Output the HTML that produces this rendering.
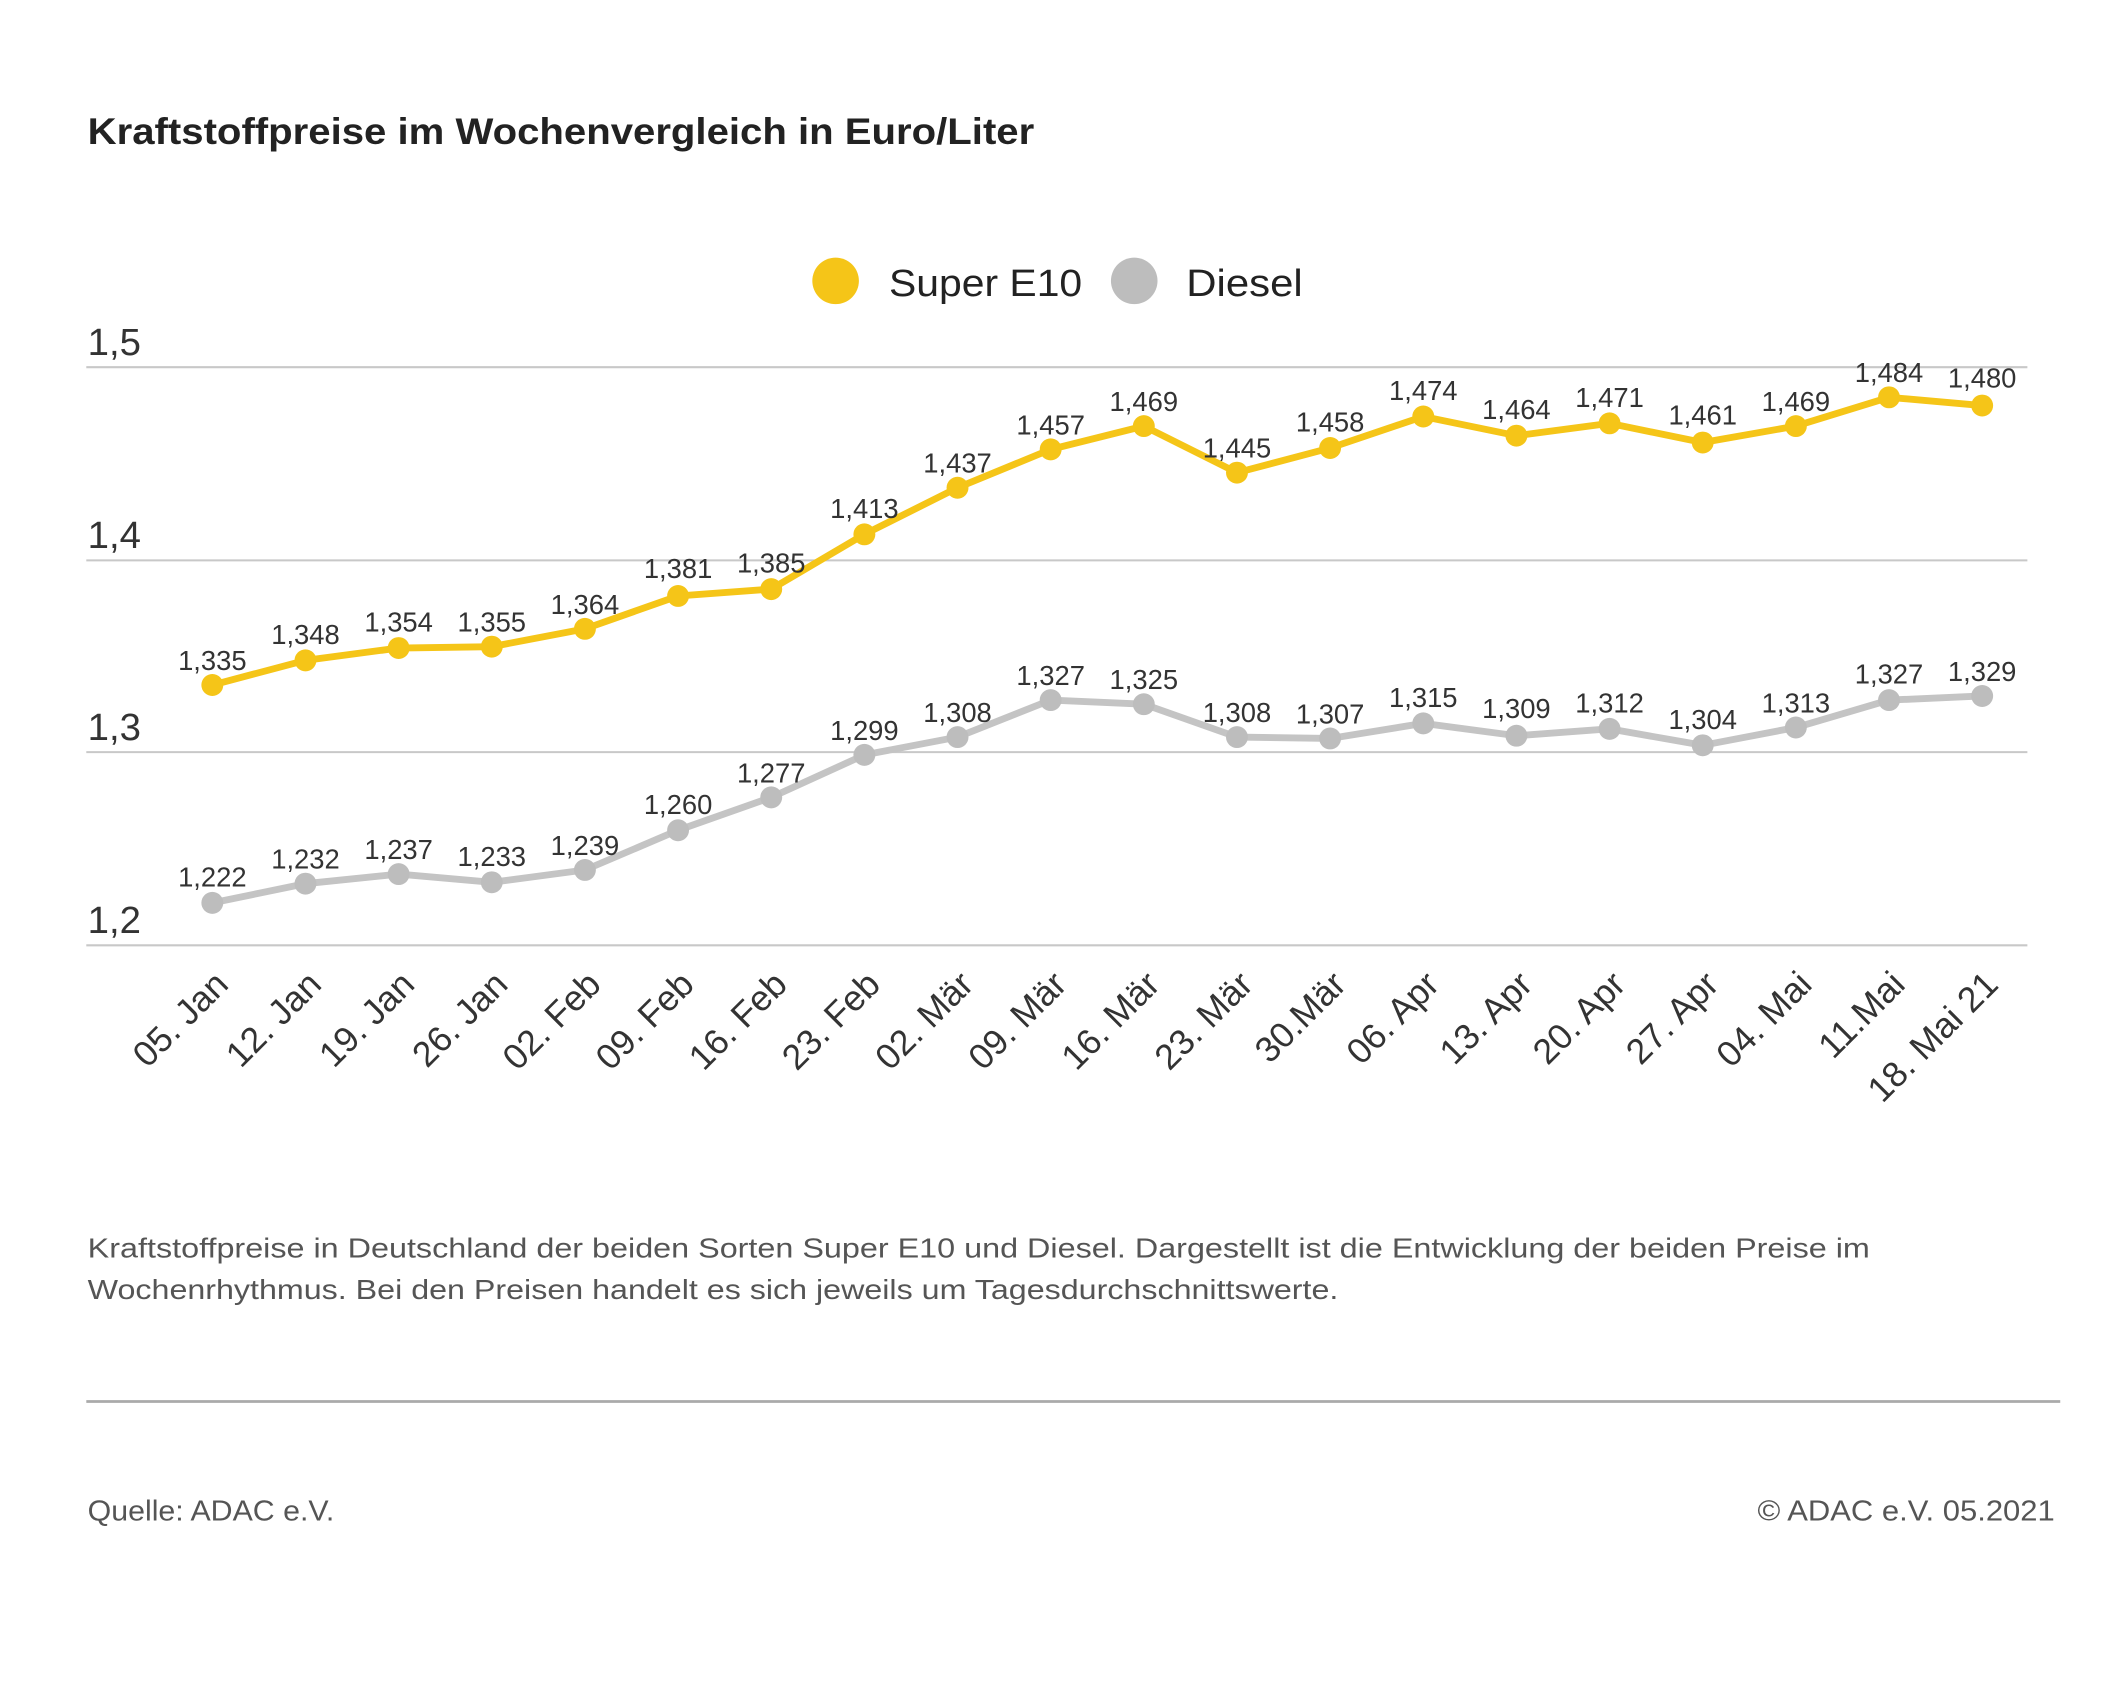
<!DOCTYPE html>
<html><head><meta charset="utf-8"><style>html,body{margin:0;padding:0;background:#fff}svg{display:block}</style></head>
<body>
<svg width="2126" height="1692" viewBox="0 0 1552 1235" preserveAspectRatio="none" xmlns="http://www.w3.org/2000/svg" font-family="Liberation Sans, DejaVu Sans, sans-serif">
<rect width="1552" height="1235" fill="#fff"/>
<text x="64" y="105" font-size="27" font-weight="bold" fill="#222" textLength="691" lengthAdjust="spacingAndGlyphs">Kraftstoffpreise im Wochenvergleich in Euro/Liter</text>
<circle cx="610" cy="205" r="17" fill="#f5c518"/>
<text x="649" y="216" font-size="28" fill="#222" textLength="141" lengthAdjust="spacingAndGlyphs">Super E10</text>
<circle cx="828" cy="205" r="17" fill="#bdbdbd"/>
<text x="866" y="216" font-size="28" fill="#222" textLength="85" lengthAdjust="spacingAndGlyphs">Diesel</text>
<g stroke="#c8c8c8" stroke-width="1.5">
<line x1="63" y1="268" x2="1480" y2="268"/><line x1="63" y1="409" x2="1480" y2="409"/><line x1="63" y1="549" x2="1480" y2="549"/><line x1="63" y1="690" x2="1480" y2="690"/>
</g>
<g font-size="28" fill="#333">
<text x="64" y="259">1,5</text><text x="64" y="400">1,4</text><text x="64" y="540">1,3</text><text x="64" y="681">1,2</text>
</g>
<polyline fill="none" stroke="#f5c518" stroke-width="5" points="155,500 223,482 291,473 359,472 427,459 495,435 563,430 631,390 699,356 767,328 835,311 903,345 971,327 1039,304 1107,318 1175,309 1243,323 1311,311 1379,290 1447,296"/>
<g fill="#f5c518">
<circle cx="155" cy="500" r="8"/><circle cx="223" cy="482" r="8"/><circle cx="291" cy="473" r="8"/><circle cx="359" cy="472" r="8"/><circle cx="427" cy="459" r="8"/><circle cx="495" cy="435" r="8"/><circle cx="563" cy="430" r="8"/><circle cx="631" cy="390" r="8"/><circle cx="699" cy="356" r="8"/><circle cx="767" cy="328" r="8"/><circle cx="835" cy="311" r="8"/><circle cx="903" cy="345" r="8"/><circle cx="971" cy="327" r="8"/><circle cx="1039" cy="304" r="8"/><circle cx="1107" cy="318" r="8"/><circle cx="1175" cy="309" r="8"/><circle cx="1243" cy="323" r="8"/><circle cx="1311" cy="311" r="8"/><circle cx="1379" cy="290" r="8"/><circle cx="1447" cy="296" r="8"/>
</g>
<polyline fill="none" stroke="#c4c4c4" stroke-width="5" points="155,659 223,645 291,638 359,644 427,635 495,606 563,582 631,551 699,538 767,511 835,514 903,538 971,539 1039,528 1107,537 1175,532 1243,544 1311,531 1379,511 1447,508"/>
<g fill="#bdbdbd">
<circle cx="155" cy="659" r="8"/><circle cx="223" cy="645" r="8"/><circle cx="291" cy="638" r="8"/><circle cx="359" cy="644" r="8"/><circle cx="427" cy="635" r="8"/><circle cx="495" cy="606" r="8"/><circle cx="563" cy="582" r="8"/><circle cx="631" cy="551" r="8"/><circle cx="699" cy="538" r="8"/><circle cx="767" cy="511" r="8"/><circle cx="835" cy="514" r="8"/><circle cx="903" cy="538" r="8"/><circle cx="971" cy="539" r="8"/><circle cx="1039" cy="528" r="8"/><circle cx="1107" cy="537" r="8"/><circle cx="1175" cy="532" r="8"/><circle cx="1243" cy="544" r="8"/><circle cx="1311" cy="531" r="8"/><circle cx="1379" cy="511" r="8"/><circle cx="1447" cy="508" r="8"/>
</g>
<g font-size="20" fill="#333" text-anchor="middle">
<text x="155" y="489">1,335</text><text x="223" y="470">1,348</text><text x="291" y="461">1,354</text><text x="359" y="461">1,355</text><text x="427" y="448">1,364</text><text x="495" y="422">1,381</text><text x="563" y="418">1,385</text><text x="631" y="378">1,413</text><text x="699" y="345">1,437</text><text x="767" y="317">1,457</text><text x="835" y="300">1,469</text><text x="903" y="334">1,445</text><text x="971" y="315">1,458</text><text x="1039" y="292">1,474</text><text x="1107" y="306">1,464</text><text x="1175" y="297">1,471</text><text x="1243" y="310">1,461</text><text x="1311" y="300">1,469</text><text x="1379" y="279">1,484</text><text x="1447" y="283">1,480</text>
<text x="155" y="647">1,222</text><text x="223" y="634">1,232</text><text x="291" y="627">1,237</text><text x="359" y="632">1,233</text><text x="427" y="624">1,239</text><text x="495" y="594">1,260</text><text x="563" y="571">1,277</text><text x="631" y="540">1,299</text><text x="699" y="527">1,308</text><text x="767" y="500">1,327</text><text x="835" y="503">1,325</text><text x="903" y="527">1,308</text><text x="971" y="528">1,307</text><text x="1039" y="516">1,315</text><text x="1107" y="524">1,309</text><text x="1175" y="520">1,312</text><text x="1243" y="532">1,304</text><text x="1311" y="520">1,313</text><text x="1379" y="499">1,327</text><text x="1447" y="497">1,329</text>
</g>
<g font-size="26" fill="#333" text-anchor="end">
<text transform="translate(168,720) rotate(-45)">05. Jan</text>
<text transform="translate(236,720) rotate(-45)">12. Jan</text>
<text transform="translate(304,720) rotate(-45)">19. Jan</text>
<text transform="translate(372,720) rotate(-45)">26. Jan</text>
<text transform="translate(440,720) rotate(-45)">02. Feb</text>
<text transform="translate(508,720) rotate(-45)">09. Feb</text>
<text transform="translate(576,720) rotate(-45)">16. Feb</text>
<text transform="translate(644,720) rotate(-45)">23. Feb</text>
<text transform="translate(712,720) rotate(-45)">02. Mär</text>
<text transform="translate(780,720) rotate(-45)">09. Mär</text>
<text transform="translate(848,720) rotate(-45)">16. Mär</text>
<text transform="translate(916,720) rotate(-45)">23. Mär</text>
<text transform="translate(984,720) rotate(-45)">30.Mär</text>
<text transform="translate(1052,720) rotate(-45)">06. Apr</text>
<text transform="translate(1120,720) rotate(-45)">13. Apr</text>
<text transform="translate(1188,720) rotate(-45)">20. Apr</text>
<text transform="translate(1256,720) rotate(-45)">27. Apr</text>
<text transform="translate(1324,720) rotate(-45)">04. Mai</text>
<text transform="translate(1392,720) rotate(-45)">11.Mai</text>
<text transform="translate(1460,720) rotate(-45)">18. Mai 21</text>
</g>
<g font-size="20" fill="#555">
<text x="64" y="918" textLength="1301" lengthAdjust="spacingAndGlyphs">Kraftstoffpreise in Deutschland der beiden Sorten Super E10 und Diesel. Dargestellt ist die Entwicklung der beiden Preise im</text>
<text x="64" y="948" textLength="913" lengthAdjust="spacingAndGlyphs">Wochenrhythmus. Bei den Preisen handelt es sich jeweils um Tagesdurchschnittswerte.</text>
</g>
<line x1="63" y1="1023" x2="1504" y2="1023" stroke="#aaa" stroke-width="2"/>
<text x="64" y="1110" font-size="21" fill="#555" textLength="180" lengthAdjust="spacingAndGlyphs">Quelle: ADAC e.V.</text>
<text x="1283" y="1110" font-size="21" fill="#555" textLength="217" lengthAdjust="spacingAndGlyphs">© ADAC e.V. 05.2021</text>
</svg>
</body></html>
